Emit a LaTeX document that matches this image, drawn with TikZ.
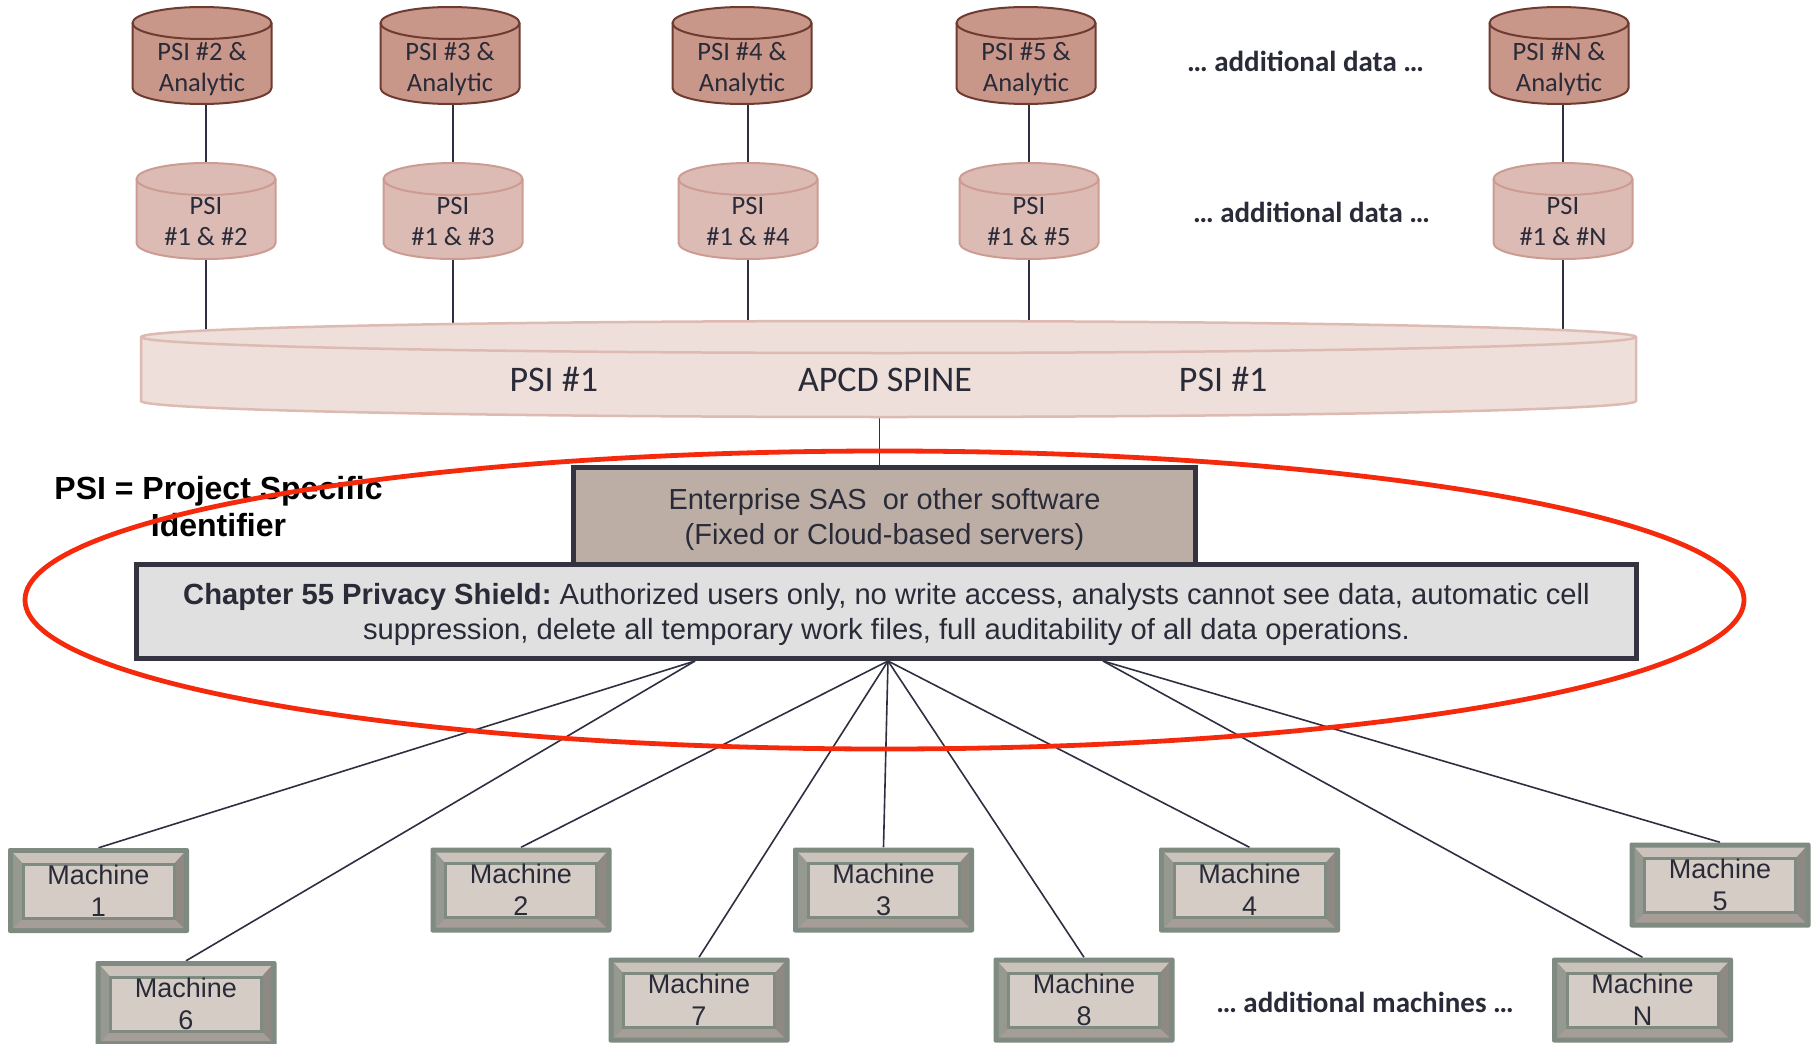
\documentclass[tikz,border=0pt]{standalone}
\usepackage{fontspec}
\setmainfont{Liberation Sans}
\newfontfamily\carlito{Carlito}
\usetikzlibrary{calc}
\pgfdeclarelayer{bg}
\pgfdeclarelayer{shapes}
\pgfsetlayers{bg,shapes,main}
\frenchspacing

\definecolor{dcfill}{HTML}{C9968A}
\definecolor{dcdraw}{HTML}{6E3B30}
\definecolor{lcfill}{HTML}{DDBBB5}
\definecolor{lcdraw}{HTML}{CC9C92}
\definecolor{spfill}{HTML}{EEDFDA}
\definecolor{spdraw}{HTML}{DDBAB2}
\definecolor{linecol}{HTML}{2E3041}
\definecolor{entfill}{HTML}{BCAEA5}
\definecolor{chapfill}{HTML}{E0E0E0}
\definecolor{boxdraw}{HTML}{33343F}
\definecolor{txt}{HTML}{2A2B38}
\definecolor{mdark}{HTML}{7F8A80}
\definecolor{mface}{HTML}{D5CCC6}
\definecolor{bevT}{HTML}{CBC3BB}
\definecolor{bevB}{HTML}{A59D96}
\definecolor{bevL}{HTML}{959990}
\definecolor{bevR}{HTML}{8E8983}
\definecolor{shieldred}{HTML}{F52A0C}

\tikzset{
  conn/.style={draw=linecol, line width=1.6pt},
  cylnode/.style={inner sep=0pt, align=center, text=txt, font={\carlito\fontsize{26.5}{31}\selectfont}},
  darkcyl/.style={fill=dcfill, draw=dcdraw, line width=2pt},
  lightcyl/.style={fill=lcfill, draw=lcdraw, line width=2pt},
  spinecyl/.style={fill=spfill, draw=spdraw, line width=2.5pt},
  addtext/.style={inner sep=0pt, text=txt, font={\carlito\bfseries\fontsize{29}{32}\selectfont}},
  entbox/.style={draw=boxdraw, line width=5pt, fill=entfill, inner sep=0pt, align=center, text=txt,
    font={\fontsize{29}{35}\selectfont}},
  chapbox/.style={draw=boxdraw, line width=5pt, fill=chapfill, inner sep=0pt, align=center, text=txt,
    font={\fontsize{29.2}{35}\selectfont}},
  machbox/.style={minimum width=181pt, minimum height=85pt, inner sep=0pt, fill=mdark,
    rounded corners=2pt, align=center, text=txt, font={\fontsize{27}{32}\selectfont},
    path picture={
      \fill[bevT, sharp corners] ([shift={(5pt,-5pt)}]path picture bounding box.north west)
        -- ([shift={(-5pt,-5pt)}]path picture bounding box.north east)
        -- ([shift={(-15pt,-16pt)}]path picture bounding box.north east)
        -- ([shift={(15pt,-16pt)}]path picture bounding box.north west) -- cycle;
      \fill[bevB, sharp corners] ([shift={(5pt,5pt)}]path picture bounding box.south west)
        -- ([shift={(-5pt,5pt)}]path picture bounding box.south east)
        -- ([shift={(-15pt,15pt)}]path picture bounding box.south east)
        -- ([shift={(15pt,15pt)}]path picture bounding box.south west) -- cycle;
      \fill[bevL, sharp corners] ([shift={(5pt,-5pt)}]path picture bounding box.north west)
        -- ([shift={(15pt,-16pt)}]path picture bounding box.north west)
        -- ([shift={(15pt,15pt)}]path picture bounding box.south west)
        -- ([shift={(5pt,5pt)}]path picture bounding box.south west) -- cycle;
      \fill[bevR, sharp corners] ([shift={(-5pt,-5pt)}]path picture bounding box.north east)
        -- ([shift={(-15pt,-16pt)}]path picture bounding box.north east)
        -- ([shift={(-15pt,15pt)}]path picture bounding box.south east)
        -- ([shift={(-5pt,5pt)}]path picture bounding box.south east) -- cycle;
      \filldraw[fill=mface, draw=mdark, line width=3pt, sharp corners]
        ([shift={(15pt,-16pt)}]path picture bounding box.north west)
        rectangle ([shift={(-15pt,15pt)}]path picture bounding box.south east);
    }},
  redring/.style={draw=shieldred, line width=4.8pt}
}

% #1 name, #2 cx, #3 top, #4 bottom, #5 rx, #6 ry, #7 style, #8 text
\newcommand{\cyl}[8]{%
  \begin{pgfonlayer}{shapes}
    \path[#7] ({#2-#5},{#3+#6}) -- ({#2-#5},{#4-#6})
      arc[start angle=180,end angle=360,x radius=#5pt,y radius=#6pt]
      -- ({#2+#5},{#3+#6})
      arc[start angle=0,end angle=180,x radius=#5pt,y radius=#6pt] -- cycle;
    \path[#7,fill=none] ({#2-#5},{#3+#6})
      arc[start angle=180,end angle=360,x radius=#5pt,y radius=#6pt];
  \end{pgfonlayer}
  \node[cylnode, minimum width={2*#5pt}, minimum height={(#4-#3)*1pt}] (#1) at (#2,{(#3+#4)/2}) {#8};
}

\begin{document}
\begin{tikzpicture}[x=1pt,y=-1pt]
\begin{pgfonlayer}{bg}
  \fill[white] (0,0) rectangle (1813,1044);
\end{pgfonlayer}
\useasboundingbox (0,0) rectangle (1813,1044);

% analytic cylinders
\cyl{d2}{202}{7}{104}{69.5}{16}{darkcyl}{\rule{0pt}{47pt}PSI \#2 \&\\Analytic\rule[-7pt]{0pt}{7pt}}
\cyl{d3}{450}{7}{104}{69.5}{16}{darkcyl}{\rule{0pt}{47pt}PSI \#3 \&\\Analytic\rule[-7pt]{0pt}{7pt}}
\cyl{d4}{742}{7}{104}{69.5}{16}{darkcyl}{\rule{0pt}{47pt}PSI \#4 \&\\Analytic\rule[-7pt]{0pt}{7pt}}
\cyl{d5}{1026}{7}{104}{69.5}{16}{darkcyl}{\rule{0pt}{47pt}PSI \#5 \&\\Analytic\rule[-7pt]{0pt}{7pt}}
\cyl{dN}{1559}{7}{104}{69.5}{16}{darkcyl}{\rule{0pt}{47pt}PSI \#N \&\\Analytic\rule[-7pt]{0pt}{7pt}}

% linked cylinders
\cyl{l2}{206}{163}{259}{69.5}{16}{lightcyl}{\rule{0pt}{44pt}PSI\\\#1 \& \#2\rule[-7pt]{0pt}{7pt}}
\cyl{l3}{453}{163}{259}{69.5}{16}{lightcyl}{\rule{0pt}{44pt}PSI\\\#1 \& \#3\rule[-7pt]{0pt}{7pt}}
\cyl{l4}{748}{163}{259}{69.5}{16}{lightcyl}{\rule{0pt}{44pt}PSI\\\#1 \& \#4\rule[-7pt]{0pt}{7pt}}
\cyl{l5}{1029}{163}{259}{69.5}{16}{lightcyl}{\rule{0pt}{44pt}PSI\\\#1 \& \#5\rule[-7pt]{0pt}{7pt}}
\cyl{lN}{1563}{163}{259}{69.5}{16}{lightcyl}{\rule{0pt}{44pt}PSI\\\#1 \& \#N\rule[-7pt]{0pt}{7pt}}

% spine
\cyl{spine}{888.5}{321}{417}{747.5}{16}{spinecyl}{{\fontsize{36}{40}\selectfont\rule{0pt}{46pt}PSI \#1\hspace{200pt}APCD SPINE\hspace{207pt}PSI \#1}}

\node[addtext, anchor=base] (add1) at (1305.5,71) {… additional data …};
\node[addtext, anchor=base] (add2) at (1311.5,222) {… additional data …};

% servers and shield
\node[entbox, minimum width=622pt, minimum height=98pt] (ent) at (884.5,516.5)
  {\rule{0pt}{26pt}Enterprise SAS\ \ or other software\\(Fixed or Cloud-based servers)};
\node[chapbox, minimum width=1500pt, minimum height=94pt] (chap) at (886.5,611.5)
  {\rule{0pt}{27pt}\textbf{Chapter 55 Privacy Shield:} Authorized users only, no write access, analysts cannot see data, automatic cell\\
   suppression, delete all temporary work files, full auditability of all data operations.};

\node[inner sep=0pt, align=center, font={\bfseries\fontsize{32}{37}\selectfont}] (psidef) at (218.5,507)
  {PSI = Project Specific\\Identifier};

% machines
\node[machbox] (m1) at (98.5,890.5) {Machine\\1};
\node[machbox] (m2) at (521,890) {Machine\\2};
\node[machbox] (m3) at (883.5,890) {Machine\\3};
\node[machbox] (m4) at (1249.5,890) {Machine\\4};
\node[machbox] (m5) at (1720,885) {Machine\\5};
\node[machbox] (m6) at (186,1003.5) {Machine\\6};
\node[machbox] (m7) at (699,1000) {Machine\\7};
\node[machbox] (m8) at (1084,1000) {Machine\\8};
\node[machbox] (mN) at (1642.5,1000) {Machine\\N};
\node[addtext, anchor=base] (addm) at (1365,1012) {… additional machines …};

\coordinate (hubL) at ([xshift=-191.5pt]chap.south);
\coordinate (hubC) at ([xshift=1.5pt]chap.south);
\coordinate (hubR) at ([xshift=216.5pt]chap.south);
\coordinate (entTop) at ([xshift=-5pt]ent.north);

% connectors
\begin{pgfonlayer}{bg}
  \foreach \a/\b in {d2/l2, d3/l3, d4/l4, d5/l5, dN/lN}
    \draw[conn] (\b.north |- \a.south) -- (\b.north);
  \foreach \b in {l2, l3, l4, l5, lN}
    \draw[conn] (\b.south) -- (\b.south |- spine.center);
  \draw[conn] (entTop) -- (entTop |- spine.center);
  \draw[conn] (hubL) -- (m1.north);
  \draw[conn] (hubL) -- (m6.north);
  \draw[conn] (hubC) -- (m2.north);
  \draw[conn] (hubC) -- (m7.north);
  \draw[conn] (hubC) -- (m3.north);
  \draw[conn] (hubC) -- (m8.north);
  \draw[conn] (hubC) -- (m4.north);
  \draw[conn] (hubR) -- (mN.north);
  \draw[conn] (hubR) -- (m5.north);
\end{pgfonlayer}

% shield ring
\draw[redring] (884.5,600) ellipse [x radius=859.5pt, y radius=149pt];
\end{tikzpicture}
\end{document}
